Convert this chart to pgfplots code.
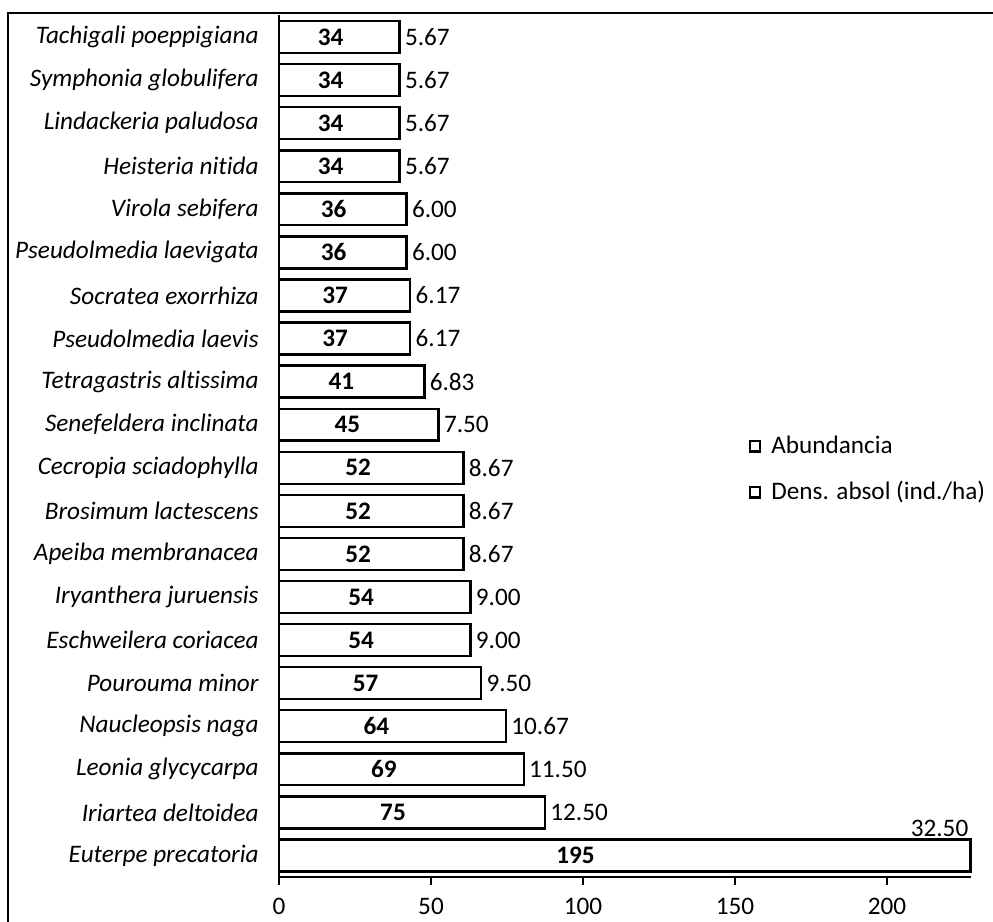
\documentclass[border=0pt]{standalone}
\usepackage{pgfplots}
\pgfplotsset{compat=1.18}
\usepackage{pgfplotstable}
\usepackage{fontspec}
\setmainfont{Carlito}[Ligatures=NoCommon]
\pgfplotstableread{
idx ab dens
0 195 32.50
1 75 12.50
2 69 11.50
3 64 10.67
4 57 9.50
5 54 9.00
6 54 9.00
7 52 8.67
8 52 8.67
9 52 8.67
10 45 7.50
11 41 6.83
12 37 6.17
13 37 6.17
14 36 6.00
15 36 6.00
16 34 5.67
17 34 5.67
18 34 5.67
19 34 5.67
}\data
\begin{document}
\fontsize{12.6}{15}\selectfont
\begin{tikzpicture}
\begin{axis}[
  scale only axis,
  width=346pt, height=430.75pt,
  xmin=0, xmax=227.6,
  ymin=-0.5, ymax=19.5,
  axis x line=bottom, axis y line=left,
  axis line style={-, line width=0.8pt, black},
  xtick={0,50,100,150,200},
  tick align=outside,
  x tick style={black, line width=0.8pt},
  major tick length=4pt,
  xticklabel style={yshift=-2pt},
  ytick={0,...,19},
  y tick style={draw=none},
  yticklabel style={font=\itshape, inner sep=0pt, xshift=-6pt},
  yticklabels={Euterpe precatoria, Iriartea deltoidea, Leonia glycycarpa, Naucleopsis naga, Pourouma minor, Eschweilera coriacea, Iryanthera juruensis, Apeiba membranacea, Brosimum lactescens, Cecropia sciadophylla, Senefeldera inclinata, Tetragastris altissima, Pseudolmedia laevis, Socratea exorrhiza, Pseudolmedia laevigata, Virola sebifera, Heisteria nitida, Lindackeria paludosa, Symphonia globulifera, Tachigali poeppigiana},
  /pgf/number format/assume math mode=true,
  clip=false,
  legend style={draw=none, fill=none, at={(rel axis cs:0.678,0.473)}, anchor=west,
    row sep=8pt, inner sep=0pt, legend cell align=left,
    /tikz/every odd column/.append style={column sep=3pt}},
]
\coordinate (bl) at (rel axis cs:0,0);
\coordinate (tr) at (rel axis cs:1,1);
% bars (abundance + density segments)
\addplot[xbar, bar width=0.74, fill=white, draw=black, line width=1.2pt, forget plot]
  table[x expr=\thisrow{ab}+\thisrow{dens}, y=idx] {\data};
% abundance labels
\addplot[only marks, mark=none, forget plot, point meta=explicit,
  nodes near coords, every node near coord/.append style={anchor=center, font=\bfseries}]
  table[x expr=\thisrow{ab}/2, y=idx, meta=ab] {\data};
% density labels
\addplot[only marks, mark=none, forget plot, point meta=explicit,
  restrict y to domain=0.5:20,
  nodes near coords={\pgfmathprintnumber[fixed,fixed zerofill,precision=2]{\pgfplotspointmeta}},
  every node near coord/.append style={anchor=west, inner sep=2.5pt}]
  table[x expr=\thisrow{ab}+\thisrow{dens}, y=idx, meta=dens] {\data};
\addplot[only marks, mark=none, forget plot, point meta=explicit,
  restrict y to domain=-0.5:0.5,
  nodes near coords={\pgfmathprintnumber[fixed,fixed zerofill,precision=2]{\pgfplotspointmeta}},
  every node near coord/.append style={anchor=south east, inner sep=1pt, yshift=8pt}]
  table[x expr=\thisrow{ab}+\thisrow{dens}, y=idx, meta=dens] {\data};
\addlegendimage{legend image code/.code={\draw[fill=white, draw=black, line width=1.2pt] (0pt,-2.6pt) rectangle (5.2pt,2.6pt);}}
\addlegendentry{Abundancia}
\addlegendimage{legend image code/.code={\draw[fill=white, draw=black, line width=1.2pt] (0pt,-2.6pt) rectangle (5.2pt,2.6pt);}}
\addlegendentry{Dens. absol (ind./ha)}
\end{axis}
\pgfresetboundingbox
\path[use as bounding box] ([shift={(-139.5pt,-22.5pt)}]bl) rectangle ([shift={(11pt,7.75pt)}]tr);
\draw[line width=0.6pt] ([shift={(-135.5pt,-30pt)}]bl) -- ([shift={(-135.5pt,1.25pt)}]bl |- tr) -- ([shift={(11pt,1.25pt)}]tr);
\end{tikzpicture}
\end{document}
